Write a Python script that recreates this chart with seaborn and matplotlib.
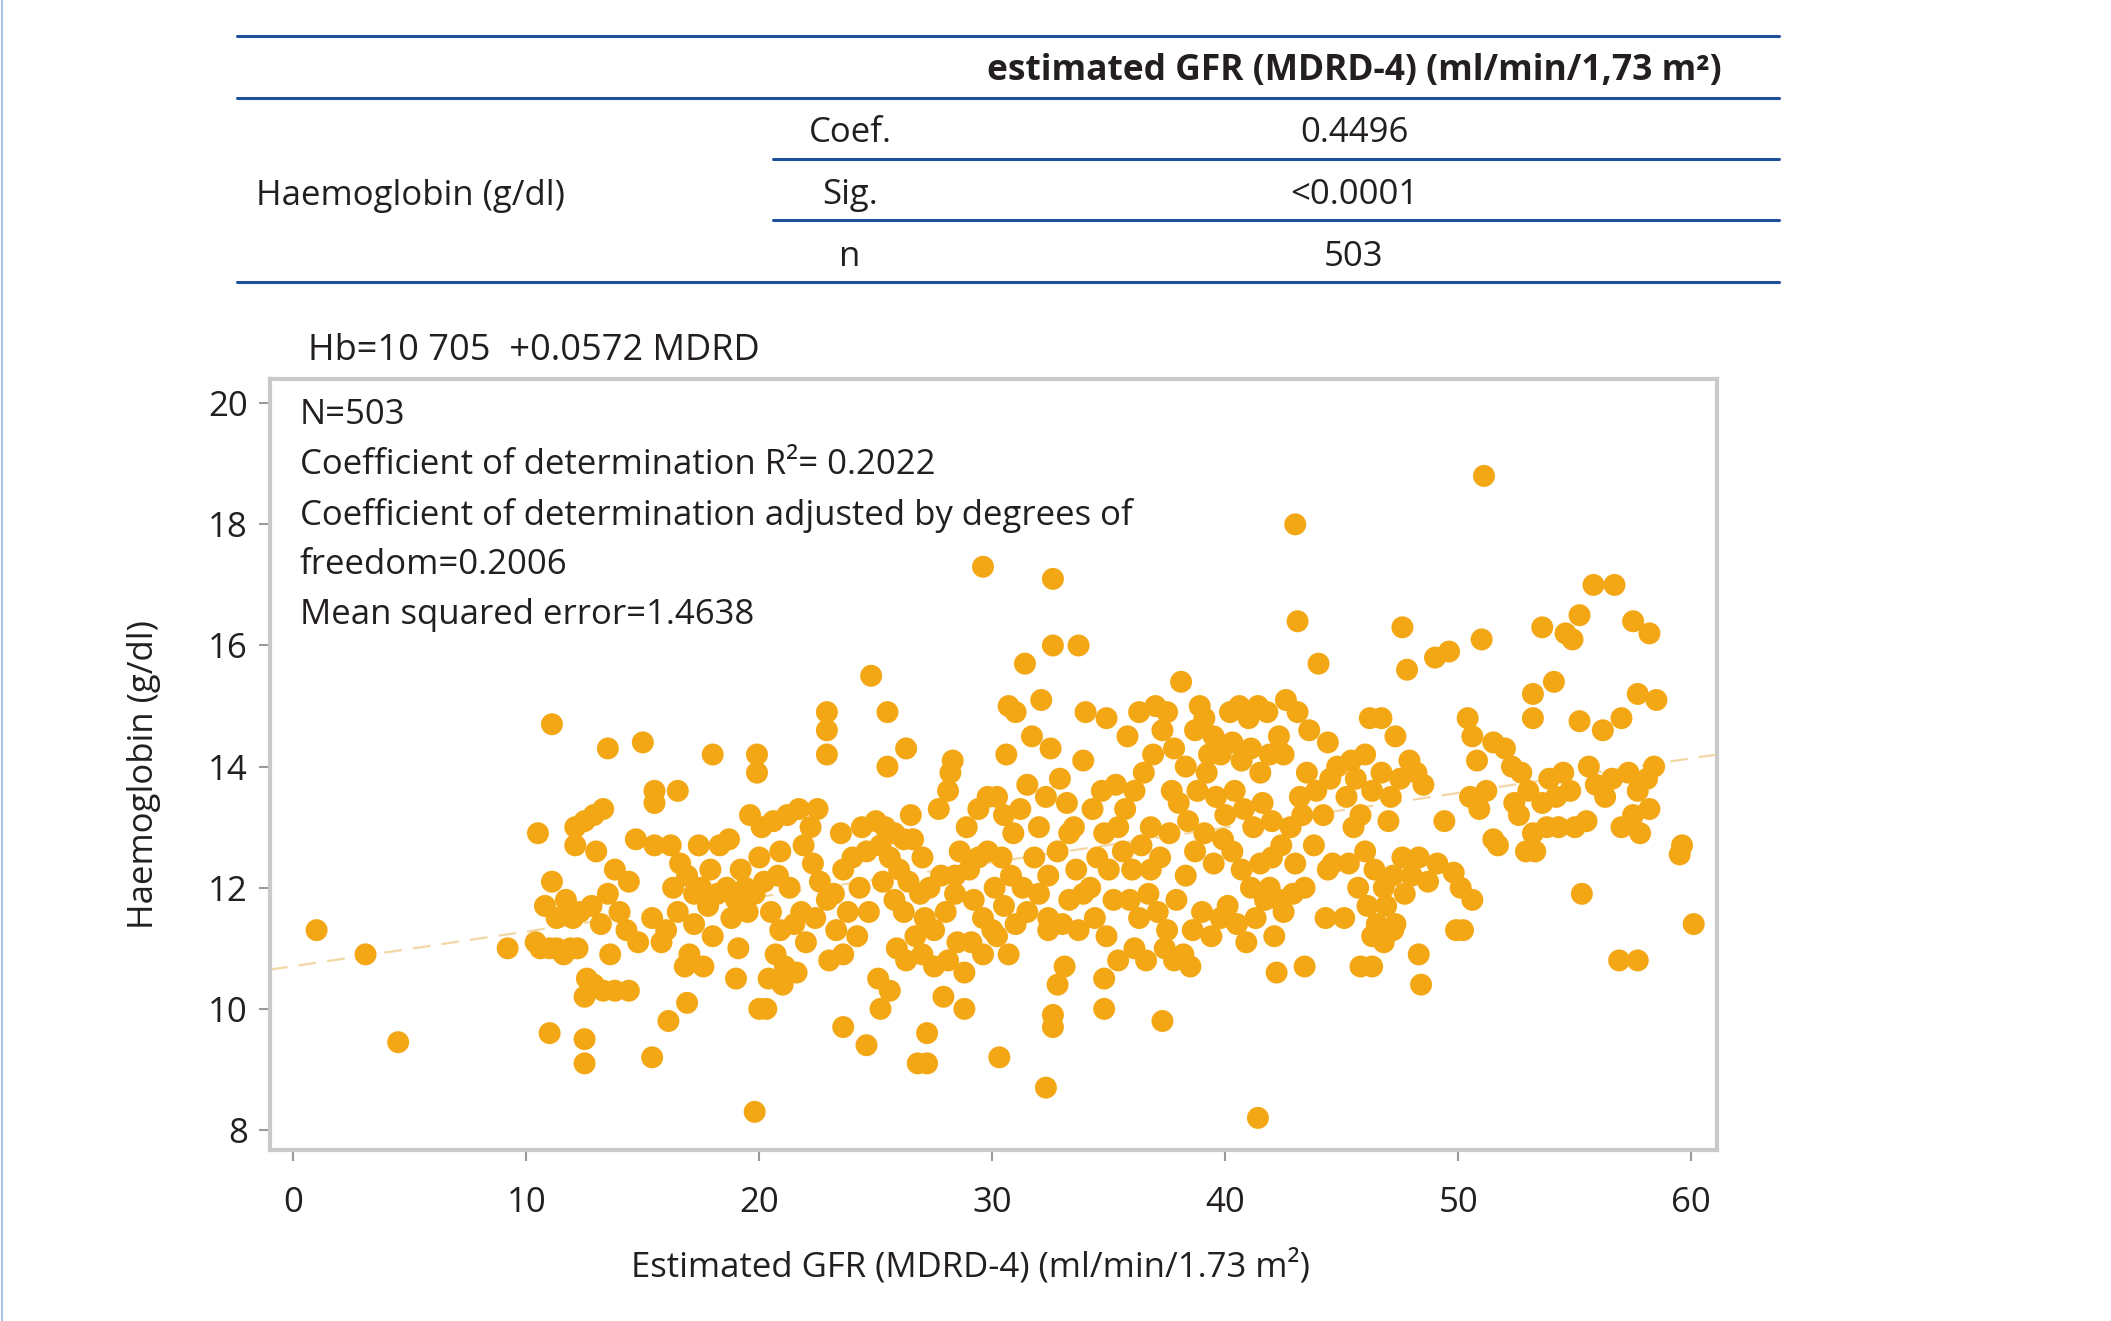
import pandas as pd
import matplotlib.pyplot as plt
from matplotlib.lines import Line2D
import seaborn as sns

# regression summary
intercept = 10.705
slope = 0.0572
n_obs = 503

# table rows
table_header = "estimated GFR (MDRD-4) (ml/min/1,73 m\u00b2)"
table_row_label = "Haemoglobin (g/dl)"
table_stats = ["Coef.", "Sig.", "n"]
table_values = ["0.4496", "<0.0001", "503"]

info_lines = ["N=503",
              "Coefficient of determination R\u00b2= 0.2022",
              "Coefficient of determination adjusted by degrees of",
              "freedom=0.2006",
              "Mean squared error=1.4638"]

# points, (GFR, Hb), grouped by GFR band
band_00_10 = [(1.0, 11.3), (3.1, 10.9), (4.5, 9.45), (9.2, 11.0)]
band_10_15 = [(10.5, 12.9), (10.8, 11.7), (10.6, 11.0), (11.0, 11.0), (11.3, 11.0), (11.6, 10.9),
              (11.9, 11.0), (12.2, 11.0), (10.4, 11.1), (11.1, 12.1), (11.1, 14.7), (11.0, 9.6),
              (12.5, 9.5), (12.5, 9.1), (12.3, 11.6), (11.7, 11.8), (12.0, 11.5), (12.8, 11.7),
              (13.2, 11.4), (13.5, 11.9), (12.6, 10.5), (12.9, 10.4), (13.3, 10.3), (13.8, 10.3),
              (14.4, 10.3), (12.5, 10.2), (12.1, 13.0), (12.5, 13.1), (12.9, 13.2), (13.3, 13.3),
              (13.5, 14.3), (13.0, 12.6), (13.8, 12.3), (14.4, 12.1), (14.0, 11.6), (14.3, 11.3),
              (14.8, 11.1), (15.0, 14.4), (12.1, 12.7), (11.3, 11.5), (14.7, 12.8), (13.6, 10.9)]
band_15_20 = [(15.5, 13.6), (15.5, 13.4), (16.5, 13.6), (15.5, 12.7), (15.8, 11.1), (16.1, 9.8),
              (15.4, 9.2), (16.9, 10.1), (16.8, 10.7), (17.0, 10.9), (18.0, 14.2), (18.0, 11.2),
              (19.0, 10.5), (19.1, 11.0), (19.9, 14.2), (19.9, 13.9), (19.8, 8.3), (20.0, 10.0),
              (20.3, 10.0), (16.3, 12.0), (16.6, 12.4), (16.9, 12.2), (17.2, 11.9), (17.5, 12.0),
              (17.8, 11.7), (16.5, 11.6), (17.2, 11.4), (16.2, 12.7), (17.4, 12.7), (18.3, 12.7),
              (18.7, 12.8), (18.6, 12.0), (19.0, 11.8), (19.4, 12.0), (19.8, 11.9), (20.2, 12.1),
              (19.5, 11.6), (20.0, 12.5), (19.2, 12.3), (18.8, 11.5), (17.9, 12.3), (16.0, 11.3),
              (17.6, 10.7), (15.4, 11.5), (19.6, 13.2), (18.2, 11.9)]
band_20_25 = [(20.1, 13.0), (20.6, 13.1), (21.2, 13.2), (21.7, 13.3), (22.2, 13.0), (20.8, 12.2),
              (21.3, 12.0), (21.8, 11.6), (20.5, 11.6), (20.9, 11.3), (21.5, 11.4), (20.7, 10.9),
              (21.1, 10.7), (21.6, 10.6), (20.4, 10.5), (21.0, 10.4), (22.0, 11.1), (22.3, 12.4),
              (22.6, 12.1), (22.9, 11.8), (22.4, 11.5), (23.2, 11.9), (23.6, 12.3), (22.9, 14.9),
              (22.9, 14.6), (22.9, 14.2), (23.5, 12.9), (24.0, 12.5), (24.3, 12.0), (23.8, 11.6),
              (23.3, 11.3), (23.6, 10.9), (24.2, 11.2), (24.6, 12.6), (24.4, 13.0), (23.6, 9.7),
              (24.6, 9.4), (25.2, 10.0), (25.1, 10.5), (24.8, 15.5), (20.9, 12.6), (21.9, 12.7),
              (22.5, 13.3), (23.0, 10.8)]
band_25_30 = [(25.5, 14.9), (26.3, 14.3), (25.5, 14.0), (25.0, 13.1), (25.4, 13.0), (25.8, 12.9),
              (26.2, 12.8), (26.6, 12.8), (25.2, 12.7), (25.6, 12.5), (26.0, 12.3), (26.4, 12.1),
              (25.3, 12.1), (25.8, 11.8), (26.2, 11.6), (26.9, 11.9), (27.3, 12.0), (27.8, 12.2),
              (27.1, 11.5), (27.5, 11.3), (28.0, 11.6), (28.4, 11.9), (26.7, 11.2), (27.0, 10.9),
              (27.5, 10.7), (28.1, 10.8), (28.5, 11.1), (26.3, 10.8), (25.9, 11.0), (27.2, 9.6),
              (27.2, 9.1), (26.8, 9.1), (27.9, 10.2), (28.8, 10.0), (28.2, 13.9), (28.3, 14.1),
              (28.1, 13.6), (27.7, 13.3), (28.6, 12.6), (29.0, 12.3), (29.4, 12.5), (29.8, 12.6),
              (29.2, 11.8), (29.6, 11.5), (30.0, 11.3), (29.1, 11.1), (28.8, 10.6), (29.6, 10.9),
              (29.6, 17.3), (27.0, 12.5), (26.5, 13.2), (28.9, 13.0), (29.8, 13.5), (29.4, 13.3),
              (24.7, 11.6), (25.6, 10.3), (28.4, 12.2)]
band_30_35 = [(30.3, 9.2), (30.7, 15.0), (31.4, 15.7), (32.1, 15.1), (32.6, 17.1), (32.6, 16.0),
              (33.7, 16.0), (32.3, 8.7), (33.1, 10.7), (32.8, 10.4), (32.6, 9.9), (32.6, 9.7),
              (34.8, 10.5), (34.8, 10.0), (35.4, 10.8), (32.4, 11.5), (32.4, 11.3), (30.2, 13.5),
              (30.5, 13.2), (30.9, 12.9), (31.2, 13.3), (30.4, 12.5), (30.8, 12.2), (31.3, 12.0),
              (30.1, 12.0), (30.5, 11.7), (31.0, 11.4), (31.5, 11.6), (30.2, 11.2), (30.7, 10.9),
              (31.8, 12.5), (32.0, 13.0), (32.3, 13.5), (32.5, 14.3), (32.9, 13.8), (33.2, 13.4),
              (31.7, 14.5), (31.0, 14.9), (32.0, 11.9), (32.4, 12.2), (32.8, 12.6), (33.3, 12.9),
              (33.6, 12.3), (33.9, 11.9), (33.3, 11.8), (33.0, 11.4), (33.7, 11.3), (34.2, 12.0),
              (34.5, 12.5), (34.8, 12.9), (34.3, 13.3), (34.7, 13.6), (33.9, 14.1), (34.0, 14.9),
              (34.9, 14.8), (34.4, 11.5), (34.9, 11.2), (35.2, 11.8), (35.0, 12.3), (35.4, 13.0),
              (33.5, 13.0), (31.5, 13.7), (30.6, 14.2)]
band_35_40 = [(38.1, 15.4), (37.3, 9.8), (35.7, 13.3), (36.1, 13.6), (36.5, 13.9), (36.9, 14.2),
              (37.3, 14.6), (37.5, 14.9), (37.8, 14.3), (38.3, 14.0), (38.7, 14.6), (39.1, 14.8),
              (39.5, 14.5), (39.8, 14.2), (35.6, 12.6), (36.0, 12.3), (36.4, 12.7), (36.8, 13.0),
              (37.2, 12.5), (37.6, 12.9), (38.0, 13.4), (38.4, 13.1), (38.8, 13.6), (39.2, 13.9),
              (39.6, 13.5), (35.9, 11.8), (36.3, 11.5), (36.7, 11.9), (37.1, 11.6), (37.5, 11.3),
              (37.9, 11.8), (38.3, 12.2), (38.7, 12.6), (39.1, 12.9), (39.5, 12.4), (39.9, 12.8),
              (36.1, 11.0), (36.6, 10.8), (37.4, 11.0), (37.8, 10.8), (38.2, 10.9), (38.6, 11.3),
              (39.0, 11.6), (39.4, 11.2), (39.8, 11.5), (38.5, 10.7), (36.8, 12.3), (35.8, 14.5),
              (36.3, 14.9), (37.0, 15.0), (38.9, 15.0), (35.3, 13.7), (37.7, 13.6), (39.3, 14.2)]
band_40_45 = [(43.0, 18.0), (43.1, 16.4), (44.0, 15.7), (41.4, 8.2), (42.2, 10.6), (43.4, 10.7),
              (40.2, 14.9), (40.6, 15.0), (41.0, 14.8), (41.4, 15.0), (41.8, 14.9), (42.6, 15.1),
              (43.1, 14.9), (43.6, 14.6), (44.4, 14.4), (40.3, 14.4), (40.7, 14.1), (41.1, 14.3),
              (41.5, 13.9), (41.9, 14.2), (42.3, 14.5), (40.4, 13.6), (40.8, 13.3), (41.2, 13.0),
              (41.6, 13.4), (42.0, 13.1), (42.4, 12.7), (42.8, 13.0), (43.2, 13.5), (43.5, 13.9),
              (43.9, 13.6), (44.2, 13.2), (43.0, 12.4), (43.4, 12.0), (43.8, 12.7), (44.4, 12.3),
              (40.3, 12.6), (40.7, 12.3), (41.1, 12.0), (41.5, 12.4), (41.9, 12.0), (42.3, 11.8),
              (40.1, 11.7), (40.5, 11.4), (40.9, 11.1), (41.3, 11.5), (41.7, 11.8), (42.1, 11.2),
              (42.5, 11.6), (42.9, 11.9), (44.3, 11.5), (44.6, 12.4), (44.8, 14.0), (44.5, 13.8),
              (40.0, 13.2), (42.0, 12.5), (43.3, 13.2), (42.5, 14.2)]
band_45_50 = [(45.1, 11.5), (45.3, 12.4), (45.8, 10.7), (46.3, 10.7), (47.6, 16.3), (47.8, 15.6),
              (49.0, 15.8), (49.6, 15.9), (48.3, 10.9), (48.4, 10.4), (49.9, 11.3), (49.8, 12.25),
              (45.2, 13.5), (45.6, 13.8), (46.0, 14.2), (46.2, 14.8), (46.7, 14.8), (45.8, 13.2),
              (46.3, 13.6), (46.7, 13.9), (47.1, 13.5), (47.5, 13.8), (47.9, 14.1), (47.3, 14.5),
              (48.2, 13.9), (48.5, 13.7), (46.0, 12.6), (46.4, 12.3), (46.8, 12.0), (47.2, 12.2),
              (47.6, 12.5), (45.7, 12.0), (46.1, 11.7), (46.5, 11.4), (46.9, 11.7), (47.3, 11.4),
              (47.7, 11.9), (48.0, 12.2), (48.3, 12.5), (48.7, 12.1), (49.1, 12.4), (46.3, 11.2),
              (46.8, 11.1), (47.2, 11.3), (45.5, 13.0), (47.0, 13.1), (49.4, 13.1), (45.4, 14.1)]
band_50_55 = [(50.2, 11.3), (51.1, 18.8), (51.0, 16.1), (50.6, 11.8), (51.5, 12.8), (50.4, 14.8),
              (50.6, 14.5), (50.8, 14.1), (50.5, 13.5), (50.9, 13.3), (51.2, 13.6), (51.5, 14.4),
              (52.0, 14.3), (52.3, 14.0), (52.7, 13.9), (53.0, 13.6), (52.6, 13.2), (53.2, 12.9),
              (52.9, 12.6), (53.3, 12.6), (53.6, 13.4), (53.9, 13.8), (54.2, 13.5), (54.5, 13.9),
              (54.8, 13.6), (53.6, 16.3), (54.6, 16.2), (54.9, 16.1), (53.2, 15.2), (53.2, 14.8),
              (54.1, 15.4), (55.2, 14.75), (53.8, 13.0), (54.3, 13.0), (55.3, 11.9), (51.7, 12.7),
              (52.4, 13.4), (50.1, 12.0)]
band_55_60 = [(55.2, 16.5), (55.8, 17.0), (56.7, 17.0), (57.5, 16.4), (58.2, 16.2), (57.7, 15.2),
              (58.5, 15.1), (57.0, 14.8), (56.2, 14.6), (55.6, 14.0), (55.9, 13.7), (56.3, 13.5),
              (56.6, 13.8), (57.3, 13.9), (57.7, 13.6), (58.1, 13.8), (58.4, 14.0), (57.5, 13.2),
              (57.0, 13.0), (58.2, 13.3), (56.9, 10.8), (57.7, 10.8), (59.6, 12.7), (59.5, 12.55),
              (60.1, 11.4), (55.0, 13.0), (55.5, 13.1), (57.8, 12.9)]

bands = [band_00_10, band_10_15, band_15_20, band_20_25, band_25_30, band_30_35,
         band_35_40, band_40_45, band_45_50, band_50_55, band_55_60]
df = pd.DataFrame([p for b in bands for p in b], columns=["gfr", "hb"])

x_lo, x_hi = -1.0, 61.1
fit = pd.DataFrame({"gfr": [x_lo, x_hi]})
fit["hb"] = intercept + slope * fit["gfr"]

sns.set_theme(style="white")
plt.rcParams["font.family"] = ["Open Sans", "DejaVu Sans"]

W, H = 2111, 1321
fig = plt.figure(figsize=(W / 100, H / 100), dpi=100)
ax = fig.add_axes([270 / W, 1 - 1150 / H, (1717 - 270) / W, (1150 - 379) / H])

sns.lineplot(data=fit, x="gfr", y="hb", ax=ax, color="#f2d7a4", linewidth=1.6,
             linestyle=(0, (8, 5)), zorder=1)
sns.scatterplot(data=df, x="gfr", y="hb", ax=ax, color="#f4a714", s=250,
                edgecolor="none", linewidth=0, alpha=1, zorder=2)

ax.set_xlim(x_lo, x_hi)
ax.set_ylim(7.67, 20.4)
ax.set_xticks([0, 10, 20, 30, 40, 50, 60])
ax.set_yticks([8, 10, 12, 14, 16, 18, 20])
for s in ax.spines.values():
    s.set_color("#cbc8c8")
    s.set_linewidth(3)
ax.tick_params(axis="both", direction="out", length=8, width=1.5, color="#9a9a9a",
               labelsize=25, labelcolor="#231f20", left=True, bottom=True)
ax.tick_params(axis="x", pad=18)
ax.tick_params(axis="y", pad=8)
ax.set_xlabel("Estimated GFR (MDRD-4) (ml/min/1.73 m\u00b2)", fontsize=25, color="#231f20")
ax.set_ylabel("Haemoglobin (g/dl)", fontsize=25, color="#231f20")
ax.xaxis.set_label_coords(0.484, -0.128)
ax.yaxis.set_label_coords(-0.075, 0.487)

for i, line in enumerate(info_lines):
    fig.text(300 / W, 1 - (415 + 50 * i) / H, line, fontsize=25, color="#231f20", va="center")
fig.text(308 / W, 1 - 351 / H, "Hb=10 705  +0.0572 MDRD", fontsize=26, color="#231f20", va="center")

# table above the chart
blue = "#1d4f9b"
rules = [(237, 1779, 36), (237, 1779, 98), (773, 1779, 159), (773, 1779, 220), (237, 1779, 282)]
for x0, x1, y in rules:
    fig.add_artist(Line2D([x0 / W, x1 / W], [1 - y / H, 1 - y / H], color=blue, linewidth=2.2))
fig.add_artist(Line2D([1.5 / W, 1.5 / W], [0, 1], color="#a9c4ea", linewidth=1.5))

fig.text(1354 / W, 1 - 71 / H, table_header, fontsize=25.5, fontweight="bold",
         color="#231f20", ha="center", va="center")
fig.text(256 / W, 1 - 196 / H, table_row_label, fontsize=25, color="#231f20", va="center")
for i, (lab, val) in enumerate(zip(table_stats, table_values)):
    y = 1 - (133 + 62 * i) / H
    fig.text(850 / W, y, lab, fontsize=25, color="#231f20", ha="center", va="center")
    fig.text(1354 / W, y, val, fontsize=25, color="#231f20", ha="center", va="center")

fig.savefig("out.png", dpi=100)
